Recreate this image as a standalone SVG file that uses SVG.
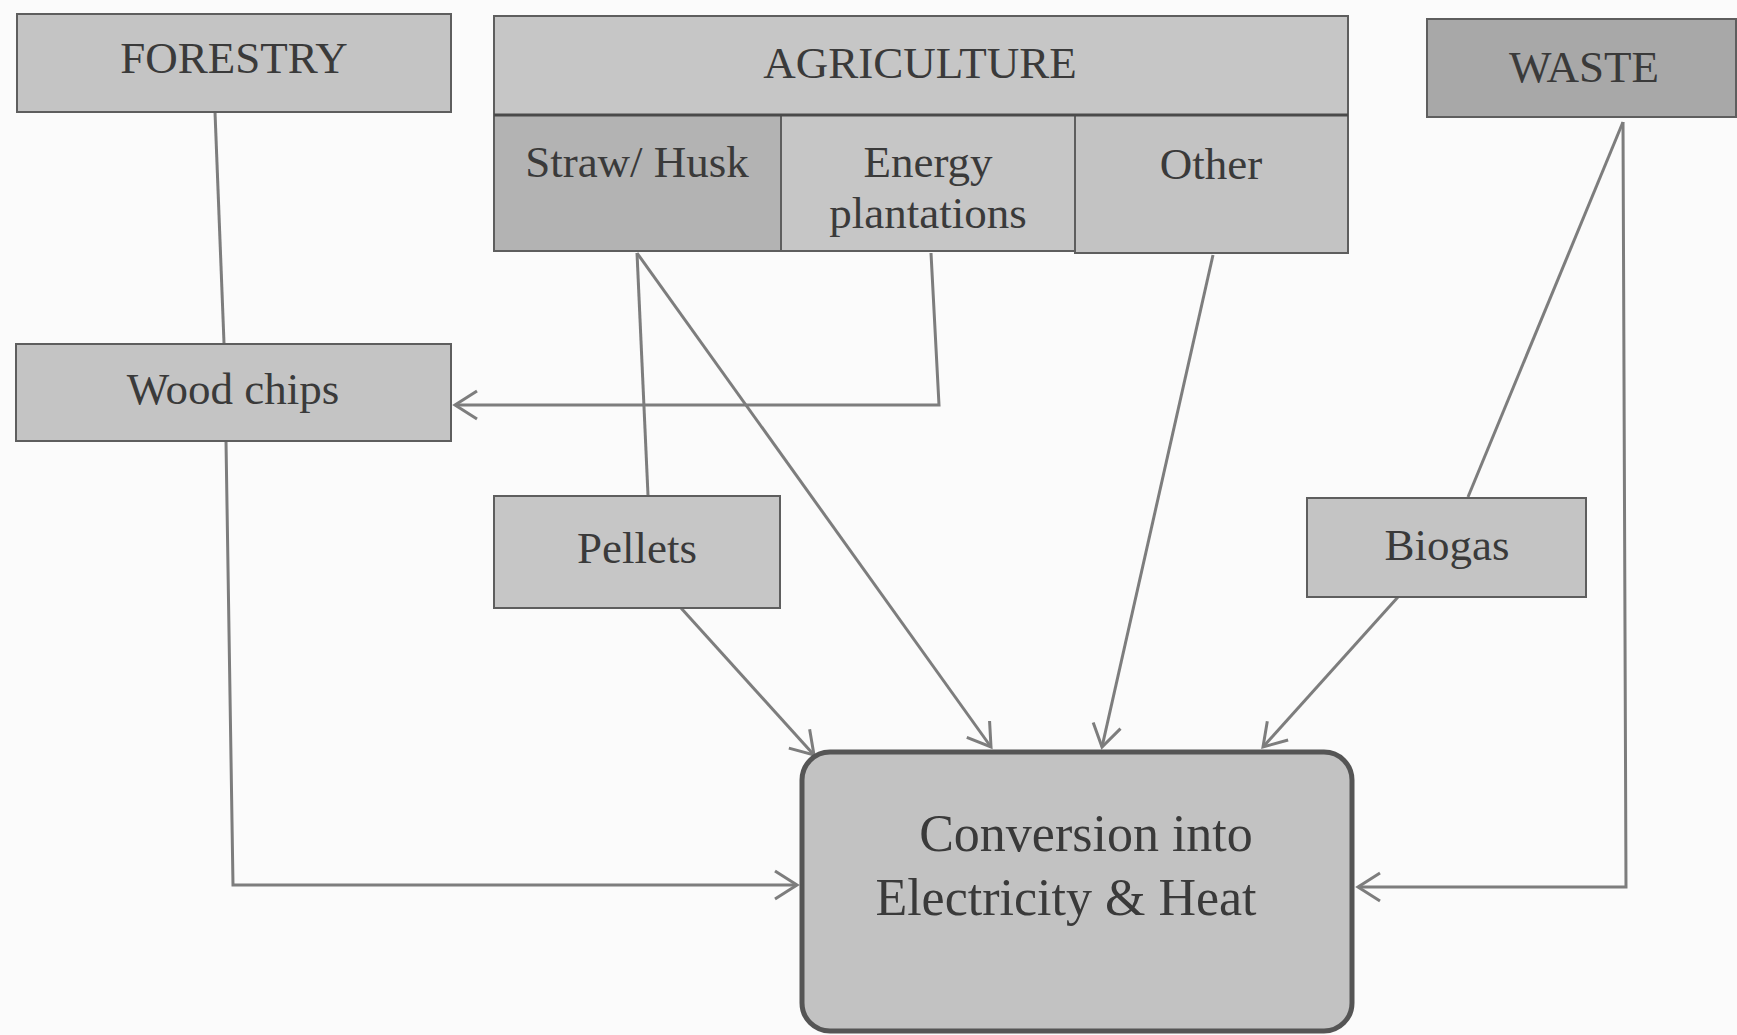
<svg xmlns="http://www.w3.org/2000/svg" width="1737" height="1035" viewBox="0 0 1737 1035">
<style>
text{font-family:"Liberation Serif","Times New Roman",serif;fill:#3a3a3a;text-anchor:middle;font-size:45px}
.box{stroke:#5e5e5e;stroke-width:2}
.c{fill:none;stroke:#7d7d7d;stroke-width:3}
</style>
<defs>
<marker id="ah" markerUnits="userSpaceOnUse" markerWidth="26" markerHeight="32" refX="22" refY="14" orient="auto" overflow="visible">
<path d="M0,0 L22,14 L0,28" fill="none" stroke="#7d7d7d" stroke-width="3"/>
</marker>
</defs>
<rect width="1737" height="1035" fill="#fbfbfb"/>
<g id="connectors">
<path class="c" d="M215,112 L224,343"/>
<path class="c" d="M226,441 L233,885 L797,885" marker-end="url(#ah)"/>
<path class="c" d="M931,253 L939,405 L455,405" marker-end="url(#ah)"/>
<path class="c" d="M637,253 L648,495"/>
<path class="c" d="M637,253 L991,747" marker-end="url(#ah)"/>
<path class="c" d="M681,608 L814,755" marker-end="url(#ah)"/>
<path class="c" d="M1213,255 L1102,747" marker-end="url(#ah)"/>
<path class="c" d="M1623,122 L1468,497"/>
<path class="c" d="M1398,597 L1263,747" marker-end="url(#ah)"/>
<path class="c" d="M1623,122 L1626,887 L1358,887" marker-end="url(#ah)"/>
</g>
<g id="forestry">
<rect class="box" x="17" y="14" width="434" height="98" fill="#c4c4c4"/>
<text x="234" y="73">FORESTRY</text>
</g>
<g id="agriculture">
<rect class="box" x="494" y="16" width="854" height="99" fill="#c6c6c6"/>
<text x="920" y="78">AGRICULTURE</text>
</g>
<g id="straw-husk">
<rect class="box" x="494" y="115" width="287" height="136" fill="#b3b3b3"/>
<text x="637" y="177">Straw/ Husk</text>
</g>
<g id="energy-plantations">
<rect class="box" x="781" y="115" width="294" height="136" fill="#c6c6c6"/>
<text x="928" y="177">Energy</text>
<text x="928" y="228">plantations</text>
</g>
<g id="other">
<rect class="box" x="1075" y="115" width="273" height="138" fill="#c3c3c3"/>
<text x="1211" y="179">Other</text>
</g>
<line x1="494" y1="115" x2="1348" y2="115" stroke="#4a4a4a" stroke-width="3"/>
<g id="waste">
<rect class="box" x="1427" y="19" width="309" height="98" fill="#a8a8a8"/>
<text x="1584" y="82">WASTE</text>
</g>
<g id="wood-chips">
<rect class="box" x="16" y="344" width="435" height="97" fill="#c4c4c4"/>
<text x="233" y="404">Wood chips</text>
</g>
<g id="pellets">
<rect class="box" x="494" y="496" width="286" height="112" fill="#c6c6c6"/>
<text x="637" y="563">Pellets</text>
</g>
<g id="biogas">
<rect class="box" x="1307" y="498" width="279" height="99" fill="#c4c4c4"/>
<text x="1447" y="560">Biogas</text>
</g>
<g id="conversion">
<rect x="802" y="752" width="550" height="279" rx="28" ry="28" fill="#c2c2c2" stroke="#555" stroke-width="5"/>
<text x="1086" y="851" style="font-size:52px">Conversion into</text>
<text x="1066" y="915" style="font-size:52px">Electricity &amp; Heat</text>
</g>
</svg>
